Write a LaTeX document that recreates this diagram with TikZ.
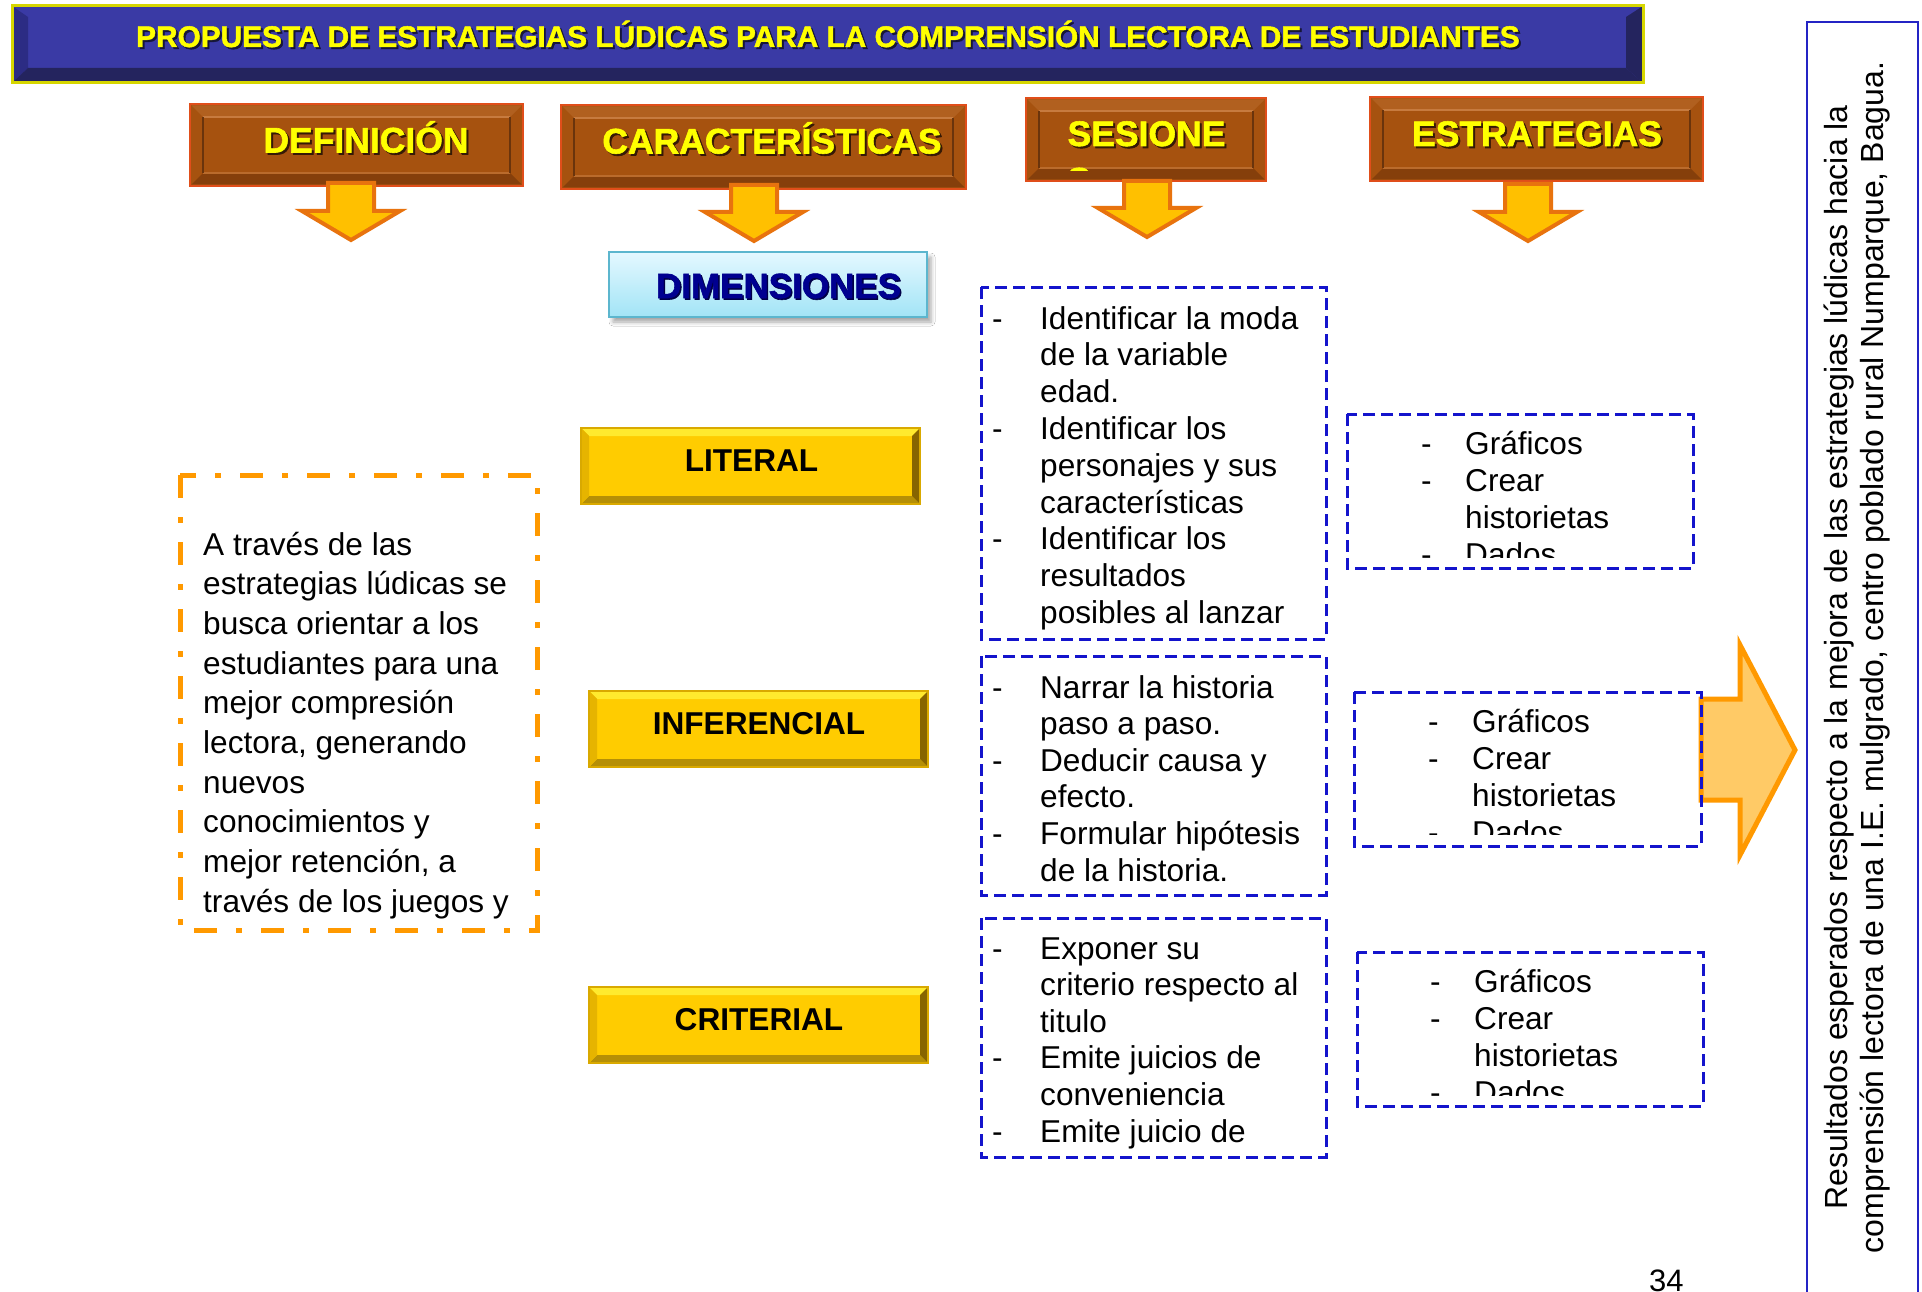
\documentclass[tikz,border=0pt]{standalone}
\usepackage{fontspec}
\setmainfont{Liberation Sans}
\newfontfamily\heavyfont[FakeBold=1.6]{Liberation Sans Bold}
\usetikzlibrary{shadows.blur}
\definecolor{tblue}{HTML}{3A3AA5}
\definecolor{tbluedark}{HTML}{24245E}
\definecolor{tblueside}{HTML}{2C2C84}
\definecolor{tedge}{HTML}{D6D600}
\definecolor{hdrfill}{HTML}{A6520F}
\definecolor{hdredge}{HTML}{E04E1A}
\definecolor{hdrlight}{HTML}{C77B3F}
\definecolor{hdrshade}{HTML}{6A340C}
\definecolor{hdrdark}{HTML}{6A3008}
\definecolor{hdryel}{HTML}{FFFF00}
\definecolor{arrfill}{HTML}{FFC000}
\definecolor{arredge}{HTML}{E8730E}
\definecolor{dimtop}{HTML}{E4F8FF}
\definecolor{dimbot}{HTML}{A2E4F6}
\definecolor{dimedge}{HTML}{5CB6CE}
\definecolor{dimtext}{HTML}{000090}
\definecolor{ybface}{HTML}{FFCC00}
\definecolor{yblight}{HTML}{FFEA2E}
\definecolor{ybdark}{HTML}{B58F06}
\definecolor{ybleft}{HTML}{E6B400}
\definecolor{ybright}{HTML}{876500}
\definecolor{ybedge}{HTML}{D9A900}
\definecolor{orgdash}{HTML}{FF9900}
\definecolor{bdash}{HTML}{1414CC}
\definecolor{bigfill}{HTML}{FFCA66}
\definecolor{bigedge}{HTML}{FF9900}
\definecolor{resedge}{HTML}{2424C4}

\newcommand\bodyfont{\fontsize{31.6}{36.8}\selectfont}
\newcommand\dl{\leavevmode\llap{\makebox[48pt][l]{-}}}
\newcommand\dm{\leavevmode\llap{\makebox[44pt][l]{-}}}

\tikzset{
  hdrtxt/.style={inner sep=0, text=hdryel, font=\fontsize{35.5}{40}\heavyfont},
  ybtxt/.style={inner sep=0, text=black, font=\fontsize{31.6}{36}\selectfont\bfseries},
  bluedash/.style={draw=bdash, line width=3, dash pattern=on 12pt off 6pt},
  txtblock/.style={inner sep=0, anchor=base west},
  arrshape/.style={line width=4, draw=arredge, fill=arrfill, line join=miter},
}

% header box: name, x1, y1, x2, y2, text, text cx, baseline
\newcommand\hdrbox[8]{%
  \draw[line width=2.5, draw=hdredge, fill=hdrfill] (#2,#3) rectangle (#4,#5);
  \fill[hdrlight, opacity=0.35] (#2+1.5,#3+1.5) -- (#4-1.5,#3+1.5) -- (#4-13,#3+13) -- (#2+13,#3+13) -- cycle;
  \fill[hdrdark, opacity=0.55] (#2+1.5,#5-1.5) -- (#4-1.5,#5-1.5) -- (#4-13,#5-13) -- (#2+13,#5-13) -- cycle;
  \draw[line width=2, hdrlight] (#2+13,#3+13) -- (#4-13,#3+13);
  \draw[line width=2, hdrlight!60!hdrfill] (#2+13,#5-13) -- (#4-13,#5-13);
  \draw[line width=2, hdrshade] (#2+13,#3+13) -- (#2+13,#5-13);
  \draw[line width=2, hdrshade] (#4-13,#3+13) -- (#4-13,#5-13);
  \node[hdrtxt, text=hdrshade!50!black, anchor=base] at (#7+2,#8+2) {#6};
  \node[hdrtxt, anchor=base] (#1) at (#7,#8) {#6};
}

% down arrow: name, cx, top, head y, tip y
\newcommand\downarr[5]{%
  \draw[arrshape] (#2-23,#3) -- (#2+23,#3) -- (#2+23,#4) -- (#2+49,#4) -- (#2,#5) -- (#2-49,#4) -- (#2-23,#4) -- cycle;
  \coordinate (#1) at (#2,#5);
}

% yellow button: name, x1, y1, x2, y2, text, cx, baseline
\newcommand\ybtn[8]{%
  \fill[ybface] (#2,#3) rectangle (#4,#5);
  \fill[yblight] (#2,#3) -- (#4,#3) -- (#4-8,#3+8) -- (#2+8,#3+8) -- cycle;
  \fill[ybdark] (#2,#5) -- (#4,#5) -- (#4-8,#5-8) -- (#2+8,#5-8) -- cycle;
  \fill[ybleft] (#2,#3) -- (#2+8,#3+8) -- (#2+8,#5-8) -- (#2,#5) -- cycle;
  \fill[ybright] (#4,#3) -- (#4-8,#3+8) -- (#4-8,#5-8) -- (#4,#5) -- cycle;
  \draw[line width=1.2, ybedge] (#2,#3) rectangle (#4,#5);
  \node[ybtxt, anchor=base] (#1) at (#7,#8) {#6};
}

\begin{document}
\begin{tikzpicture}[x=1pt,y=-1pt]
\useasboundingbox[fill=white] (0,0) rectangle (1922,1292);

% ---------- title ----------
\fill[tblue] (12,6) rectangle (1643,83);
\fill[tblueside] (12,6) -- (28,17) -- (28,68) -- (12,83) -- cycle;
\fill[tbluedark] (12,83) -- (28,68) -- (1626,68) -- (1643,83) -- cycle;
\fill[tbluedark] (1643,6) -- (1626,17) -- (1626,68) -- (1643,83) -- cycle;
\draw[tedge, line width=3] (12,6) rectangle (1643,83);
\node[inner sep=0, anchor=base, text=tbluedark!60!black, font=\fontsize{29.8}{34}\heavyfont] at (830,49) {PROPUESTA DE ESTRATEGIAS LÚDICAS PARA LA COMPRENSIÓN LECTORA DE ESTUDIANTES};
\node[inner sep=0, anchor=base, text=hdryel, font=\fontsize{29.8}{34}\heavyfont] (title) at (828,47) {PROPUESTA DE ESTRATEGIAS LÚDICAS PARA LA COMPRENSIÓN LECTORA DE ESTUDIANTES};

% ---------- headers ----------
\hdrbox{def}{190}{104}{523}{186}{DEFINICIÓN}{366}{152.5}
\hdrbox{car}{561}{105}{966}{189}{CARACTERÍSTICAS}{772}{153.5}
\hdrbox{ses}{1026}{98}{1266}{181}{SESIONE}{1146.5}{146}
\begin{scope}
  \clip (1040,98) rectangle (1253,170.5);
  \node[hdrtxt, anchor=base west] (sesS) at (1067,192.5) {S};
\end{scope}
\hdrbox{est}{1370}{97}{1703}{181}{ESTRATEGIAS}{1537}{146}

% ---------- down arrows ----------
\downarr{defa}{351}{183}{211}{240}
\downarr{cara}{754}{185}{212}{241}
\downarr{sesa}{1147}{181}{208}{237}
\downarr{esta}{1528}{184}{212}{241}

% ---------- dimensiones ----------
\node[draw=dimedge, line width=2, top color=dimtop, bottom color=dimbot,
      minimum width=318, minimum height=65, inner sep=0,
      blur shadow={shadow xshift=4pt, shadow yshift=-5pt, shadow blur radius=4pt, shadow opacity=35}]
      (dimbox) at (768,284.5) {};
\node[inner sep=0, anchor=base, text=dimtext!50!black, font=\fontsize{35}{40}\heavyfont] at (780,299.5) {DIMENSIONES};
\node[inner sep=0, anchor=base, text=dimtext, font=\fontsize{35}{40}\heavyfont] (dim) at (778.5,298) {DIMENSIONES};

% ---------- yellow buttons ----------
\ybtn{lit}{581}{428}{920}{504}{LITERAL}{751.5}{471}
\ybtn{inf}{589}{691}{928}{767}{INFERENCIAL}{759}{734}
\ybtn{cri}{589}{987}{928}{1063}{CRITERIAL}{759}{1030}

% ---------- definition box ----------
\draw[orgdash, line width=5, dash pattern=on 23pt off 19pt on 6pt off 19pt] (180,475) rectangle (537,930);
\node[txtblock] (deftext) at (203,555) {\parbox[t]{330pt}{\fontsize{31.6}{39.7}\selectfont
A través de las\\
estrategias lúdicas se\\
busca orientar a los\\
estudiantes para una\\
mejor compresión\\
lectora, generando\\
nuevos\\
conocimientos y\\
mejor retención, a\\
través de los juegos y}};

% ---------- sessions ----------
\draw[bluedash] (981,287) rectangle (1326,639);
\node[txtblock] (s1) at (1040,329) {\parbox[t]{280pt}{\bodyfont
\dl Identificar la moda\\
de la variable\\
edad.\\
\dl Identificar los\\
personajes y sus\\
características\\
\dl Identificar los\\
resultados\\
posibles al lanzar}};

\draw[bluedash] (981,656) rectangle (1326,895);
\node[txtblock] (s2) at (1040,698) {\parbox[t]{280pt}{\fontsize{31.6}{36.6}\selectfont
\dl Narrar la historia\\
paso a paso.\\
\dl Deducir causa y\\
efecto.\\
\dl Formular hipótesis\\
de la historia.}};

\draw[bluedash] (981,918) rectangle (1326,1157);
\node[txtblock] (s3) at (1040,959) {\parbox[t]{280pt}{\fontsize{31.6}{36.6}\selectfont
\dl Exponer su\\
criterio respecto al\\
titulo\\
\dl Emite juicios de\\
conveniencia\\
\dl Emite juicio de}};

% ---------- big arrow ----------
\draw[line width=5, draw=bigedge, fill=bigfill, line join=miter]
  (1701,699) -- (1740,699) -- (1740,645) -- (1795,750) -- (1740,855) -- (1740,800) -- (1701,800) -- cycle;
\coordinate (bigtip) at (1795,750);

% ---------- strategies ----------
\begin{scope}
  \clip (1347,414) rectangle (1693,557);
  \node[txtblock] (e1) at (1465,454) {\parbox[t]{220pt}{\fontsize{31.6}{37}\selectfont
  \dm Gráficos\\ \dm Crear\\ historietas\\ \dm Dados}};
\end{scope}
\draw[bluedash] (1347,414) rectangle (1693,568);

\begin{scope}
  \clip (1354,692) rectangle (1701,834);
  \node[txtblock] (e2) at (1472,732) {\parbox[t]{220pt}{\fontsize{31.6}{37}\selectfont
  \dm Gráficos\\ \dm Crear\\ historietas\\ \dm Dados}};
\end{scope}
\draw[bluedash] (1354,692) rectangle (1701,846);

\begin{scope}
  \clip (1357,952) rectangle (1703,1095);
  \node[txtblock] (e3) at (1474,992) {\parbox[t]{220pt}{\fontsize{31.6}{37}\selectfont
  \dm Gráficos\\ \dm Crear\\ historietas\\ \dm Dados}};
\end{scope}
\draw[bluedash] (1357,952) rectangle (1703,1106);

% ---------- result box ----------
\draw[resedge, line width=2] (1807,1300) -- (1807,22) -- (1918,22) -- (1918,1300);
\node[rotate=90, align=center, inner sep=0, font=\fontsize{32}{36.8}\selectfont] (res) at (1857,657.5)
  {Resultados esperados respecto a la mejora de las estrategias lúdicas hacia la\\
   comprensión lectora de una I.E. mulgrado, centro poblado rural Numparque, Bagua.};

% ---------- page number ----------
\node[txtblock, font=\fontsize{31}{36}\selectfont] (page) at (1649,1291) {34};

\end{tikzpicture}
\end{document}
